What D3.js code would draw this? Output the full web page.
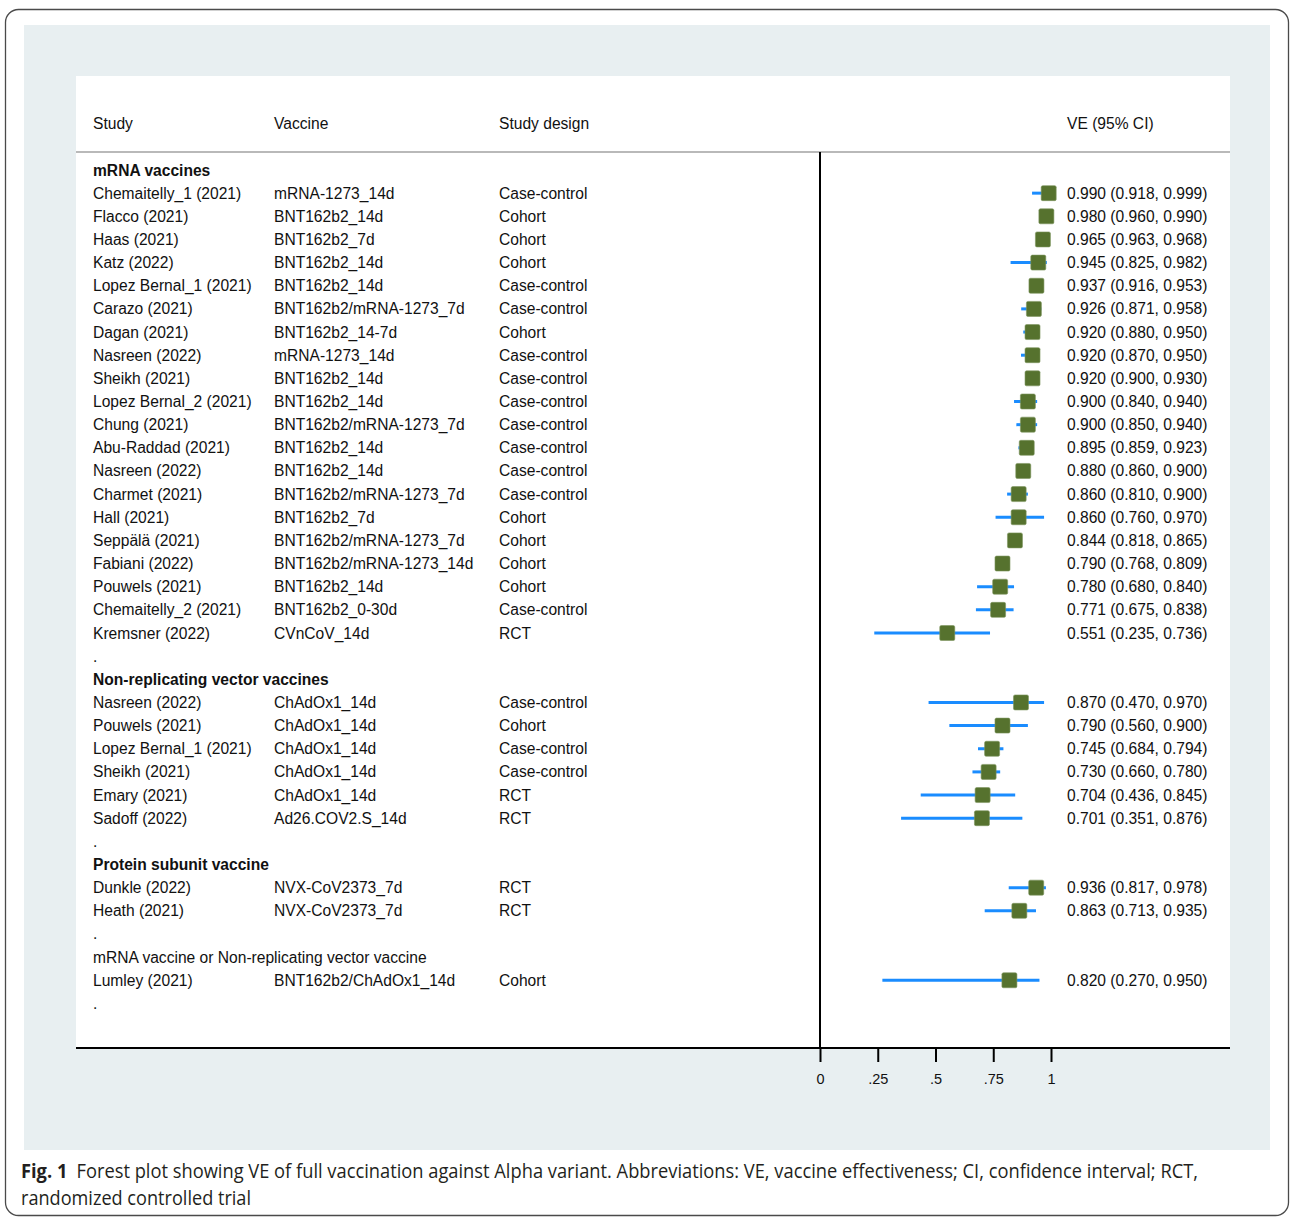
<!DOCTYPE html>
<html><head><meta charset="utf-8">
<script src="https://cdn.jsdelivr.net/npm/d3@7"></script>
<style>body{margin:0;background:#fff}svg{display:block}</style>
</head><body>
<script>
const groupLabels = ["mRNA vaccines","Non-replicating vector vaccines","Protein subunit vaccine","mRNA vaccine or Non-replicating vector vaccine"];
const groupBold = [true,true,true,false];
const studyGroup = [0,0,0,0,0,0,0,0,0,0,0,0,0,0,0,0,0,0,0,0, 1,1,1,1,1,1, 2,2, 3];
const studies = ["Chemaitelly_1 (2021)","Flacco (2021)","Haas (2021)","Katz (2022)","Lopez Bernal_1 (2021)","Carazo (2021)","Dagan (2021)","Nasreen (2022)","Sheikh (2021)","Lopez Bernal_2 (2021)","Chung (2021)","Abu-Raddad (2021)","Nasreen (2022)","Charmet (2021)","Hall (2021)","Seppälä (2021)","Fabiani (2022)","Pouwels (2021)","Chemaitelly_2 (2021)","Kremsner (2022)",
"Nasreen (2022)","Pouwels (2021)","Lopez Bernal_1 (2021)","Sheikh (2021)","Emary (2021)","Sadoff (2022)",
"Dunkle (2022)","Heath (2021)",
"Lumley (2021)"];
const vaccines = ["mRNA-1273_14d","BNT162b2_14d","BNT162b2_7d","BNT162b2_14d","BNT162b2_14d","BNT162b2/mRNA-1273_7d","BNT162b2_14-7d","mRNA-1273_14d","BNT162b2_14d","BNT162b2_14d","BNT162b2/mRNA-1273_7d","BNT162b2_14d","BNT162b2_14d","BNT162b2/mRNA-1273_7d","BNT162b2_7d","BNT162b2/mRNA-1273_7d","BNT162b2/mRNA-1273_14d","BNT162b2_14d","BNT162b2_0-30d","CVnCoV_14d",
"ChAdOx1_14d","ChAdOx1_14d","ChAdOx1_14d","ChAdOx1_14d","ChAdOx1_14d","Ad26.COV2.S_14d",
"NVX-CoV2373_7d","NVX-CoV2373_7d",
"BNT162b2/ChAdOx1_14d"];
const designs = ["Case-control","Cohort","Cohort","Cohort","Case-control","Case-control","Cohort","Case-control","Case-control","Case-control","Case-control","Case-control","Case-control","Case-control","Cohort","Cohort","Cohort","Cohort","Case-control","RCT",
"Case-control","Cohort","Case-control","Case-control","RCT","RCT",
"RCT","RCT",
"Cohort"];
const ve    = [0.990,0.980,0.965,0.945,0.937,0.926,0.920,0.920,0.920,0.900,0.900,0.895,0.880,0.860,0.860,0.844,0.790,0.780,0.771,0.551, 0.870,0.790,0.745,0.730,0.704,0.701, 0.936,0.863, 0.820];
const lower = [0.918,0.960,0.963,0.825,0.916,0.871,0.880,0.870,0.900,0.840,0.850,0.859,0.860,0.810,0.760,0.818,0.768,0.680,0.675,0.235, 0.470,0.560,0.684,0.660,0.436,0.351, 0.817,0.713, 0.270];
const upper = [0.999,0.990,0.968,0.982,0.953,0.958,0.950,0.950,0.930,0.940,0.940,0.923,0.900,0.900,0.970,0.865,0.809,0.840,0.838,0.736, 0.970,0.900,0.794,0.780,0.845,0.876, 0.978,0.935, 0.950];
const tickValues = [0, 0.25, 0.5, 0.75, 1];
const tickLabels = ["0", ".25", ".5", ".75", "1"];
const headers = ["Study","Vaccine","Study design","VE (95% CI)"];

// build line layout
const lines = [];
groupLabels.forEach((g, gi) => {
  lines.push({type:"group", text:g, bold:groupBold[gi]});
  studies.forEach((s, i) => { if (studyGroup[i] === gi) lines.push({type:"study", i}); });
  lines.push({type:"dot"});
});

const W = 1290, H = 1217;
const svg = d3.select("body").append("svg").attr("width", W).attr("height", H);
const font = "Liberation Sans, Arial, Helvetica, sans-serif";
const fs = 15.6;

svg.append("rect").attr("x",5.5).attr("y",9.5).attr("width",1283).attr("height",1206)
  .attr("rx",13).attr("fill","#fff").attr("stroke","#4a4a4a").attr("stroke-width",1.3);
svg.append("rect").attr("x",24).attr("y",25).attr("width",1246).attr("height",1125).attr("fill","#e8eff1");
svg.append("rect").attr("x",76).attr("y",76).attr("width",1154).attr("height",972).attr("fill","#fff");

const x = d3.scaleLinear().domain([0,1]).range([820,1051]);
const y = d3.scaleLinear().domain([0, lines.length-1]).range([170, 1003.4]);
const colX = [93, 274, 499, 1067];

// header
svg.append("g").selectAll("text").data(headers).join("text")
  .attr("x",(d,i)=>colX[i]).attr("y",129).text(d=>d)
  .attr("font-family",font).attr("font-size",fs).attr("fill","#111");
svg.append("line").attr("x1",76).attr("x2",1230).attr("y1",152).attr("y2",152)
  .attr("stroke","#b9b9b9").attr("stroke-width",2);

// vertical null line at 0
svg.append("line").attr("x1",x(0)).attr("x2",x(0)).attr("y1",152).attr("y2",1048)
  .attr("stroke","#000").attr("stroke-width",2);

const rows = svg.append("g");
lines.forEach((ln, li) => {
  const cy = y(li);
  if (ln.type === "group") {
    rows.append("text").attr("x",colX[0]).attr("y",cy+5.5).text(ln.text)
      .attr("font-family",font).attr("font-size",fs).attr("font-weight",ln.bold?"bold":"normal").attr("fill","#111");
  } else if (ln.type === "dot") {
    rows.append("text").attr("x",colX[0]).attr("y",cy+5.5).text(".")
      .attr("font-family",font).attr("font-size",fs).attr("fill","#111");
  } else {
    const i = ln.i;
    [studies[i], vaccines[i], designs[i]].forEach((t, c) => {
      rows.append("text").attr("x",colX[c]).attr("y",cy+5.5).text(t)
        .attr("font-family",font).attr("font-size",fs).attr("fill","#111");
    });
    rows.append("text").attr("x",colX[3]).attr("y",cy+5.5)
      .text(`${ve[i].toFixed(3)} (${lower[i].toFixed(3)}, ${upper[i].toFixed(3)})`)
      .attr("font-family",font).attr("font-size",fs).attr("fill","#111");
    rows.append("line").attr("x1",x(lower[i])).attr("x2",x(upper[i])).attr("y1",cy).attr("y2",cy)
      .attr("stroke","#1a8cff").attr("stroke-width",3);
    rows.append("rect").attr("x",x(ve[i])-7.5).attr("y",cy-7.5).attr("width",15).attr("height",15)
      .attr("rx",1.5).attr("fill","#56722e").attr("stroke","#7d9560").attr("stroke-width",0.6);
  }
});

// axis
svg.append("line").attr("x1",76).attr("x2",1230).attr("y1",1048).attr("y2",1048)
  .attr("stroke","#000").attr("stroke-width",2);
const axis = d3.axisBottom(x).tickValues(tickValues).tickSize(14).tickPadding(12)
  .tickFormat((d,i)=>tickLabels[i]);
const ag = svg.append("g").attr("transform","translate(0,1048)").call(axis);
ag.select(".domain").remove();
ag.selectAll(".tick line").attr("stroke","#000").attr("stroke-width",2);
ag.selectAll(".tick text").attr("font-family",font).attr("font-size",14.5).attr("fill","#111");

// caption
const capFont = "'Liberation Sans Narrow', 'Open Sans', sans-serif";
const cap1 = svg.append("text").attr("x",21).attr("y",1178).attr("font-family",capFont).attr("font-size",19.5).attr("fill","#231f20")
  .attr("textLength",1177).attr("lengthAdjust","spacingAndGlyphs");
cap1.append("tspan").attr("font-weight","bold").text("Fig. 1");
cap1.append("tspan").text("\u2002Forest plot showing VE of full vaccination against Alpha variant. Abbreviations: VE, vaccine effectiveness; CI, confidence interval; RCT,");
svg.append("text").attr("x",21).attr("y",1205).attr("font-family",capFont).attr("font-size",19.5).attr("fill","#231f20")
  .attr("textLength",230).attr("lengthAdjust","spacingAndGlyphs").text("randomized controlled trial");
</script>
</body></html>
